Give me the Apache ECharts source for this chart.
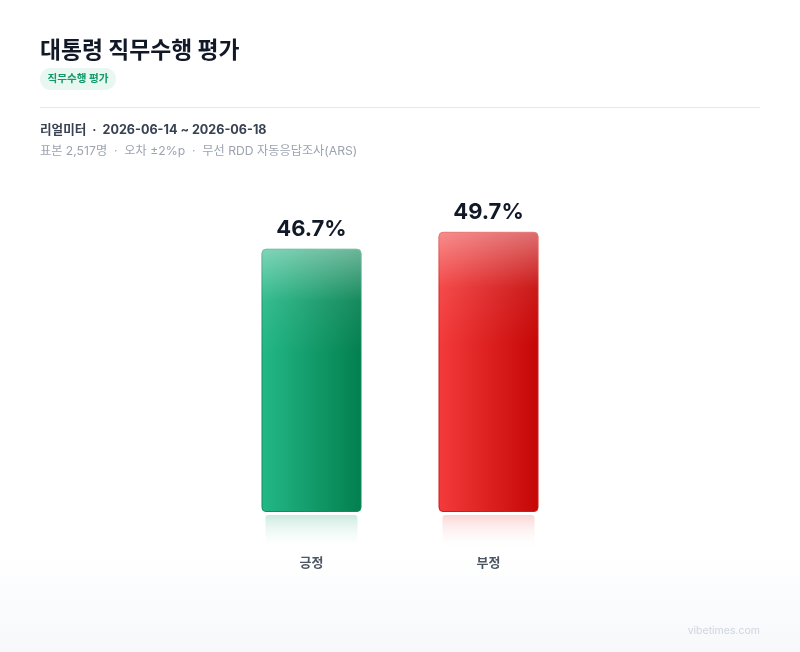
<!DOCTYPE html>
<html>
<head>
<meta charset="utf-8">
<script src="https://cdn.jsdelivr.net/npm/echarts@6/dist/echarts.min.js"></script>
<style>
html,body{margin:0;padding:0;background:#fff;}
#c{width:800px;height:652px;}
</style>
</head>
<body>
<div id="c"></div>
<script>
const categories = ['긍정', '부정'];
const values = [46.7, 49.7];
const titleText = '대통령 직무수행 평가';
const tagText = '직무수행 평가';
const sourceText = '리얼미터  ·  2026-06-14 ~ 2026-06-18';
const metaText = '표본 2,517명  ·  오차 ±2%p  ·  무선 RDD 자동응답조사(ARS)';
const footerText = 'vibetimes.com';

const FONT = "Inter, 'Noto Sans CJK KR', sans-serif";
const palette = [
  { left: '#23b887', right: '#037f4e', border: '#0c8f5c', refl: 'rgba(16,163,110,0.22)' },
  { left: '#f43b3b', right: '#c50606', border: '#d31919', refl: 'rgba(239,68,68,0.22)' }
];

const chart = echarts.init(document.getElementById('c'), null, { renderer: 'canvas' });

const mainData = values.map((v, i) => ({
  value: v,
  itemStyle: {
    color: new echarts.graphic.LinearGradient(0, 0, 1, 0, [
      { offset: 0, color: palette[i].left },
      { offset: 1, color: palette[i].right }
    ]),
    borderColor: palette[i].border,
    borderWidth: 1
  }
}));

const glossData = values.map(v => ({ value: v }));

const reflData = values.map((v, i) => [i, v]);

chart.setOption({
  backgroundColor: '#ffffff',
  animation: false,
  grid: { left: 223, right: 223, top: 202, bottom: 140 },
  xAxis: {
    type: 'category',
    data: categories,
    axisLine: { show: false },
    axisTick: { show: false },
    axisLabel: {
      margin: 45,
      fontSize: 13,
      fontWeight: 'bold',
      color: '#4b5563',
      fontFamily: FONT
    }
  },
  yAxis: {
    type: 'value',
    min: 0,
    max: 55,
    show: false,
    splitLine: { show: false }
  },
  graphic: [
    {
      type: 'rect', z: -10, silent: true,
      shape: { x: 0, y: 555, width: 800, height: 97 },
      style: {
        fill: new echarts.graphic.LinearGradient(0, 0, 0, 1, [
          { offset: 0, color: '#ffffff' },
          { offset: 1, color: '#f6f8fb' }
        ])
      }
    },
    {
      type: 'text', x: 40, y: 51,
      style: { text: titleText, font: "bold 22.8px " + FONT, fill: '#111827', verticalAlign: 'middle' }
    },
    {
      type: 'rect', shape: { x: 40, y: 68, width: 76, height: 22, r: 11 },
      style: { fill: '#e8f7ef' }
    },
    {
      type: 'text', x: 78, y: 79,
      style: { text: tagText, font: "bold 10.6px " + FONT, fill: '#0f9a68', align: 'center', verticalAlign: 'middle' }
    },
    {
      type: 'line', shape: { x1: 40, y1: 107.5, x2: 760, y2: 107.5 },
      style: { stroke: '#e6e8ec', lineWidth: 1 }
    },
    {
      type: 'text', x: 40, y: 130,
      style: { text: sourceText, font: "bold 12.6px " + FONT, fill: '#374151', verticalAlign: 'middle' }
    },
    {
      type: 'text', x: 40, y: 151,
      style: { text: metaText, font: "12.2px " + FONT, fill: '#9ca3af', verticalAlign: 'middle' }
    },
    {
      type: 'text', x: 760, y: 631,
      style: { text: footerText, font: "10.5px " + FONT, fill: '#cfd5de', align: 'right', verticalAlign: 'middle' }
    }
  ],
  series: [
    {
      type: 'custom',
      z: 1,
      silent: true,
      clip: false,
      data: reflData,
      renderItem: function (params, api) {
        const idx = api.value(0);
        const p = api.coord([idx, 0]);
        const w = 92;
        const h = 35;
        const c = palette[idx].refl;
        return {
          type: 'rect',
          shape: { x: p[0] - w / 2, y: p[1] + 3, width: w, height: h, r: 3 },
          style: {
            fill: new echarts.graphic.LinearGradient(0, 0, 0, 1, [
              { offset: 0, color: c },
              { offset: 1, color: 'rgba(255,255,255,0)' }
            ])
          }
        };
      }
    },
    {
      type: 'bar',
      z: 2,
      data: mainData,
      barWidth: 100,
      itemStyle: { borderRadius: 4 },
      label: {
        show: true,
        position: 'top',
        distance: 8,
        formatter: '{c}%',
        fontSize: 22,
        fontWeight: 'bold',
        color: '#111827',
        fontFamily: FONT
      }
    },
    {
      type: 'bar',
      z: 3,
      silent: true,
      barGap: '-100%',
      barWidth: 100,
      data: glossData,
      itemStyle: {
        borderRadius: 4,
        color: new echarts.graphic.LinearGradient(0, 0, 0, 1, [
          { offset: 0, color: 'rgba(255,255,255,0.42)' },
          { offset: 0.2, color: 'rgba(255,255,255,0.08)' },
          { offset: 0.4, color: 'rgba(255,255,255,0)' },
          { offset: 1, color: 'rgba(255,255,255,0)' }
        ])
      }
    }
  ]
});
</script>
</body>
</html>
